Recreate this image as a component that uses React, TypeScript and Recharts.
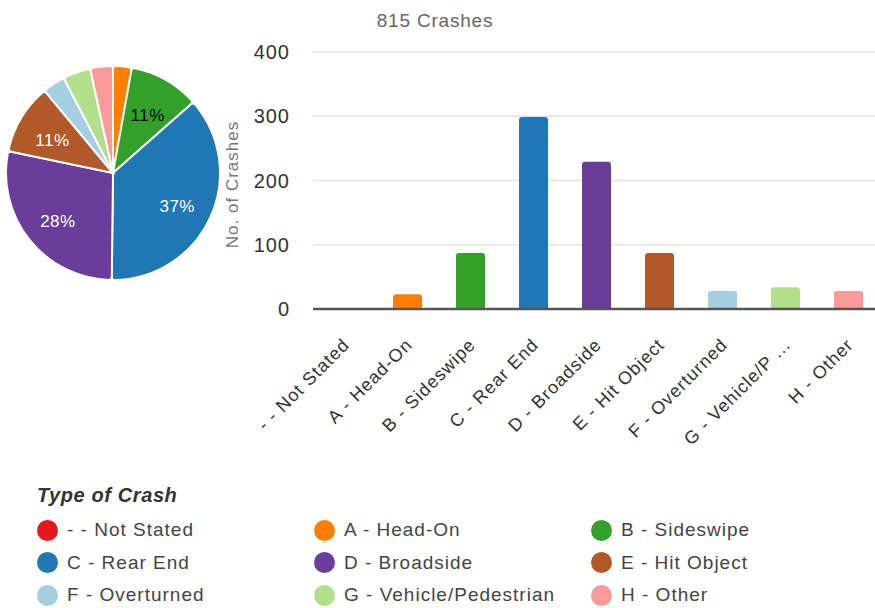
import React from 'react';
import {
  BarChart,
  Bar,
  XAxis,
  YAxis,
  CartesianGrid,
  Cell,
  PieChart,
  Pie,
  Label,
} from 'recharts';

const categories = [
  '- - Not Stated',
  'A - Head-On',
  'B - Sideswipe',
  'C - Rear End',
  'D - Broadside',
  'E - Hit Object',
  'F - Overturned',
  'G - Vehicle/Pedestrian',
  'H - Other',
];
const crashCounts = [0, 23, 87, 299, 229, 87, 28, 34, 28];
const yTicks = [0, 100, 200, 300, 400];
const totalCrashes = 815;

const COLORS = [
  '#e31a1c',
  '#ff7f00',
  '#33a02c',
  '#1f78b4',
  '#6a3d9a',
  '#b15928',
  '#a6cee3',
  '#b2df8a',
  '#fb9a99',
];

const FONT = '"Liberation Sans", Arial, sans-serif';

const data = categories.map((name, i) => ({ name, value: crashCounts[i] }));

const RADIAN = Math.PI / 180;

const shortLabel = (s: string) => (s.length > 15 ? s.slice(0, 13) + ' ...' : s);

const XTick = (props: any) => {
  const { x, y, payload } = props;
  const tx = x + 6;
  const ty = y + 29;
  return (
    <text
      x={tx}
      y={ty}
      transform={`rotate(-45, ${tx}, ${ty})`}
      textAnchor="end"
      fontSize={18}
      letterSpacing={1}
      fill="#333"
      fontFamily={FONT}
    >
      {shortLabel(payload.value)}
    </text>
  );
};

const renderPieLabel = (props: any) => {
  const { cx, cy, midAngle, outerRadius, percent, index } = props;
  if (percent < 0.1) return null;
  const r = outerRadius * 0.66;
  const x = cx + r * Math.cos(-midAngle * RADIAN);
  const y = cy + r * Math.sin(-midAngle * RADIAN) + 4;
  return (
    <text
      x={x}
      y={y}
      fill={index === 2 ? '#000' : '#fff'}
      textAnchor="middle"
      dominantBaseline="central"
      fontSize={17}
      letterSpacing={0.5}
      fontFamily={FONT}
    >
      {`${Math.round(percent * 100)}%`}
    </text>
  );
};

export default function App() {
  return (
    <div
      style={{
        position: 'absolute',
        left: 0,
        top: 0,
        width: 875,
        height: 608,
        overflow: 'hidden',
        background: '#fff',
        fontFamily: FONT,
      }}
    >
      <div
        style={{
          position: 'absolute',
          left: 335,
          width: 200,
          top: 10,
          textAlign: 'center',
          fontSize: 19,
          letterSpacing: 0.8,
          color: '#666',
        }}
      >
        {totalCrashes} Crashes
      </div>

      <div style={{ position: 'absolute', left: 0, top: 58 }}>
        <PieChart width={230} height={230}>
          <Pie
            data={data}
            dataKey="value"
            nameKey="name"
            cx={108}
            cy={110}
            outerRadius={107}
            startAngle={90}
            endAngle={-270}
            stroke="#fff"
            strokeWidth={2}
            cornerRadius={3}
            labelLine={false}
            label={renderPieLabel}
            isAnimationActive={false}
          >
            {data.map((d, i) => (
              <Cell key={d.name} fill={COLORS[i]} />
            ))}
          </Pie>
        </PieChart>
      </div>

      <div style={{ position: 'absolute', left: 0, top: 0 }}>
        <BarChart
          width={900}
          height={470}
          data={data}
          margin={{ top: 52, right: 20, left: 220, bottom: 11 }}
          barCategoryGap={0}
        >
          <CartesianGrid vertical={false} stroke="#e3e3e3" strokeWidth={1.5} />
          <XAxis
            dataKey="name"
            interval={0}
            height={150}
            tickLine={false}
            axisLine={{ stroke: '#555', strokeWidth: 2.5 }}
            tick={<XTick />}
          />
          <YAxis
            width={93}
            domain={[0, 400]}
            ticks={yTicks}
            axisLine={false}
            tickLine={false}
            tickMargin={17}
            tick={{ fontSize: 20, fill: '#333', fontFamily: FONT, letterSpacing: 1 }}
          >
            <Label
              content={(p: any) => {
                const vb = p.viewBox;
                const lx = vb.x + 18;
                const ly = vb.y + vb.height / 2 + 4;
                return (
                  <text
                    x={lx}
                    y={ly}
                    transform={`rotate(-90, ${lx}, ${ly})`}
                    textAnchor="middle"
                    fontSize={17}
                    letterSpacing={1}
                    fill="#777"
                    fontFamily={FONT}
                  >
                    No. of Crashes
                  </text>
                );
              }}
            />
          </YAxis>
          <Bar
            dataKey="value"
            barSize={29}
            radius={[3, 3, 0, 0]}
            isAnimationActive={false}
          >
            {data.map((d, i) => (
              <Cell key={d.name} fill={COLORS[i]} />
            ))}
          </Bar>
        </BarChart>
      </div>

      <div
        style={{
          position: 'absolute',
          left: 37,
          top: 484,
          fontSize: 20,
          fontWeight: 'bold',
          fontStyle: 'italic',
          letterSpacing: 0.6,
          color: '#333',
        }}
      >
        Type of Crash
      </div>
      {categories.map((c, i) => {
        const col = i % 3;
        const row = Math.floor(i / 3);
        return (
          <div
            key={c}
            style={{
              position: 'absolute',
              left: [37, 314, 591][col],
              top: 519 + row * 32.5,
              height: 22,
              display: 'flex',
              alignItems: 'center',
              fontSize: 19,
              letterSpacing: 1,
              color: '#444',
              whiteSpace: 'nowrap',
            }}
          >
            <span
              style={{
                display: 'inline-block',
                width: 21,
                height: 21,
                borderRadius: '50%',
                background: COLORS[i],
                marginRight: 9,
              }}
            />
            {c}
          </div>
        );
      })}
    </div>
  );
}
